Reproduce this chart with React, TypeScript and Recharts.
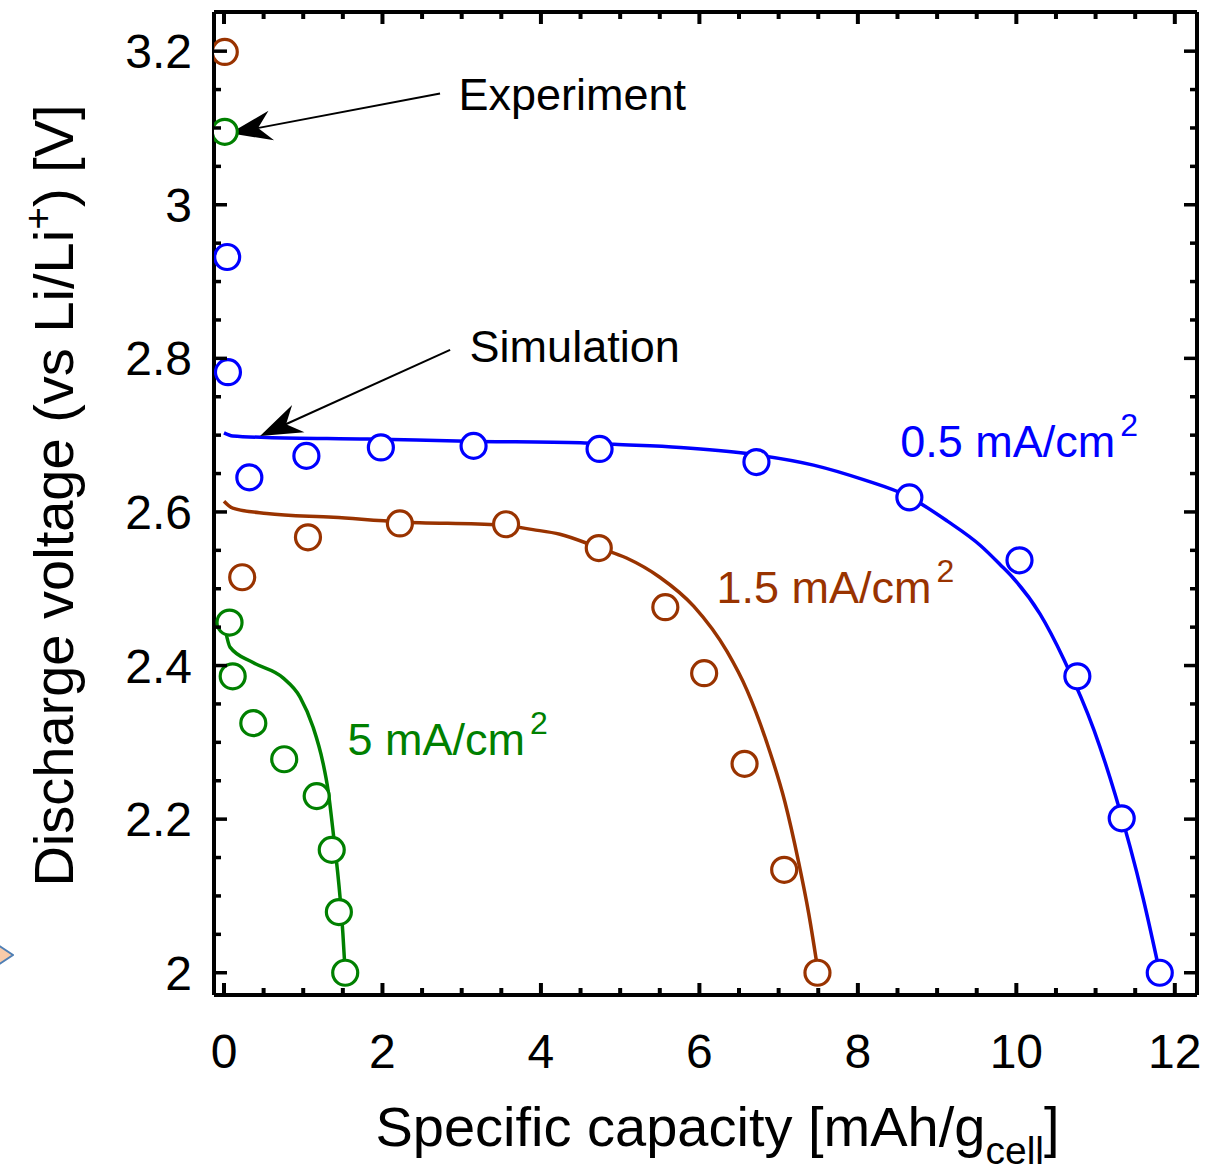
import React from 'react';
import { ComposedChart, Line, Scatter, XAxis, YAxis, ReferenceLine, ReferenceDot } from 'recharts';

// experiment points (circles)
const exp05X = [0.04, 0.05, 0.32, 1.04, 1.98, 3.15, 4.74, 6.72, 8.65, 10.04, 10.77, 11.33, 11.81];
const exp05Y = [2.932, 2.782, 2.645, 2.673, 2.684, 2.686, 2.682, 2.665, 2.619, 2.537, 2.386, 2.201, 2.0];
const exp15X = [0.01, 0.23, 1.06, 2.22, 3.56, 4.73, 5.57, 6.06, 6.57, 7.07, 7.49];
const exp15Y = [3.199, 2.515, 2.567, 2.585, 2.584, 2.553, 2.476, 2.39, 2.272, 2.134, 2.0];
const exp5X = [0.01, 0.07, 0.11, 0.37, 0.76, 1.17, 1.36, 1.45, 1.53];
const exp5Y = [3.095, 2.456, 2.386, 2.325, 2.278, 2.23, 2.16, 2.079, 2.0];

// simulation curves
const sim05X = [0, 0.11, 0.54, 1.81, 3.07, 4.5, 4.92, 5.76, 6.6, 7.44, 8.07, 8.64, 9.13, 9.55, 9.8, 9.96, 10.3, 10.6, 10.98, 11.25, 11.6, 11.81];
const sim05Y = [2.703, 2.699, 2.697, 2.695, 2.692, 2.69, 2.688, 2.684, 2.676, 2.661, 2.642, 2.62, 2.588, 2.556, 2.531, 2.514, 2.467, 2.408, 2.316, 2.231, 2.097, 2.0];
const sim15X = [0, 0.11, 0.54, 1.38, 2.22, 3.48, 3.9, 4.24, 4.74, 5.08, 5.5, 5.93, 6.35, 6.6, 6.85, 7.08, 7.25, 7.38, 7.5];
const sim15Y = [2.614, 2.605, 2.598, 2.593, 2.587, 2.583, 2.577, 2.571, 2.553, 2.54, 2.515, 2.477, 2.418, 2.368, 2.3, 2.222, 2.145, 2.077, 2.0];
const sim5X = [0.02, 0.076, 0.366, 0.745, 0.96, 1.124, 1.25, 1.313, 1.38, 1.465, 1.5, 1.53];
const sim5Y = [2.445, 2.424, 2.404, 2.384, 2.359, 2.32, 2.273, 2.238, 2.181, 2.098, 2.052, 2.0];

// axes
const xDomain = [-0.126, 12.28];
const yDomain = [1.971, 3.251];
const xTicks = [0, 0.5, 1, 1.5, 2, 2.5, 3, 3.5, 4, 4.5, 5, 5.5, 6, 6.5, 7, 7.5, 8, 8.5, 9, 9.5, 10, 10.5, 11, 11.5, 12];
const xLabels = [0, 2, 4, 6, 8, 10, 12];
const yTicks = [2, 2.05, 2.1, 2.15, 2.2, 2.25, 2.3, 2.35, 2.4, 2.45, 2.5, 2.55, 2.6, 2.65, 2.7, 2.75, 2.8, 2.85, 2.9, 2.95, 3, 3.05, 3.1, 3.15, 3.2];
const yLabels = [2, 2.2, 2.4, 2.6, 2.8, 3, 3.2];

// annotations (data coords)
const seriesNames = ['0.5 mA/cm', '1.5 mA/cm', '5 mA/cm'];
const seriesLabelX = [8.535, 6.215, 1.56];
const seriesLabelY = [2.671, 2.481, 2.283];
const noteText = ['Experiment', 'Simulation'];
const noteX = [2.96, 3.1];
const noteY = [3.123, 2.795];
const arrowTail = [{ x: 2.727, y: 3.145 }, { x: 2.854, y: 2.811 }];
const arrowTip = [{ x: 0.076, y: 3.093 }, { x: 0.455, y: 2.699 }];

const BLUE = '#0000ff';
const BROWN = '#993300';
const GREEN = '#008000';
const FONT = '"Liberation Sans", Arial, Helvetica, sans-serif';

const pts = (xs: number[], ys: number[]) => xs.map((x, i) => ({ x, y: ys[i] }));
const isMajor = (list: number[], v: number) => list.some((m) => Math.abs(m - v) < 1e-6);

const BottomTick = (props: any) => {
  const { x, y, payload } = props;
  const major = isMajor(xLabels, payload.value);
  return (
    <g>
      <line x1={x} y1={y} x2={x} y2={y - (major ? 12 : 7)} stroke="#000" strokeWidth={4} />
      {major && (
        <text x={x} y={y + 73} textAnchor="middle" fontSize={48} fontFamily={FONT} fill="#000">
          {payload.value}
        </text>
      )}
    </g>
  );
};

const TopTick = (props: any) => {
  const { x, y, payload } = props;
  const major = isMajor(xLabels, payload.value);
  return <line x1={x} y1={y} x2={x} y2={y + (major ? 12 : 7)} stroke="#000" strokeWidth={4} />;
};

const LeftTick = (props: any) => {
  const { x, y, payload } = props;
  const major = isMajor(yLabels, payload.value);
  return (
    <g>
      <line x1={x} y1={y} x2={x + (major ? 13 : 7)} y2={y} stroke="#000" strokeWidth={3.5} />
      {major && (
        <text x={x - 22} y={y + 17} textAnchor="end" fontSize={48} fontFamily={FONT} fill="#000">
          {payload.value}
        </text>
      )}
    </g>
  );
};

const RightTick = (props: any) => {
  const { x, y, payload } = props;
  const major = isMajor(yLabels, payload.value);
  return <line x1={x} y1={y} x2={x - (major ? 13 : 7)} y2={y} stroke="#000" strokeWidth={3.5} />;
};

const XTitle = (props: any) => {
  const vb = props.viewBox;
  return (
    <text x={vb.x + vb.width / 2 + 12} y={vb.y + 151} textAnchor="middle" fontSize={56} fontFamily={FONT} fill="#000">
      Specific capacity [mAh/g
      <tspan dy={18} fontSize={39}>cell</tspan>
      <tspan dy={-18}>]</tspan>
    </text>
  );
};

const YTitle = (props: any) => {
  const vb = props.viewBox;
  const cx = vb.x + 73;
  const cy = vb.y + vb.height / 2 - 8;
  return (
    <text x={cx} y={cy} transform={`rotate(-90, ${cx}, ${cy})`} textAnchor="middle" fontSize={56} fontFamily={FONT} fill="#000">
      Discharge voltage (vs Li/Li
      <tspan dy={-22} fontSize={39}>+</tspan>
      <tspan dy={22}>) [V]</tspan>
    </text>
  );
};

const Ring = (color: string) => (p: any) => (
  <circle cx={p.cx} cy={p.cy} r={12.5} fill="#fff" stroke={color} strokeWidth={3.2} />
);

const Arrow = (p: any) => {
  const { x1, y1, x2, y2 } = p;
  const dx = x2 - x1;
  const dy = y2 - y1;
  const len = Math.sqrt(dx * dx + dy * dy) || 1;
  const ux = dx / len;
  const uy = dy / len;
  const nx = -uy;
  const ny = ux;
  const L = 42;
  const W = 15;
  const head = [
    [x2, y2],
    [x2 - L * ux + W * nx, y2 - L * uy + W * ny],
    [x2 - 0.68 * L * ux, y2 - 0.68 * L * uy],
    [x2 - L * ux - W * nx, y2 - L * uy - W * ny],
  ]
    .map((q) => q.join(','))
    .join(' ');
  return (
    <g>
      <line x1={x1} y1={y1} x2={x2 - 0.6 * L * ux} y2={y2 - 0.6 * L * uy} stroke="#000" strokeWidth={2} />
      <polygon points={head} fill="#000" />
    </g>
  );
};

const SeriesLabel = (text: string, color: string) => (p: any) => (
  <text x={p.cx} y={p.cy} fill={color} fontSize={45} fontFamily={FONT}>
    {text}
    <tspan dx={5} dy={-21} fontSize={32}>2</tspan>
  </text>
);

const NoteLabel = (text: string) => (p: any) => (
  <text x={p.cx} y={p.cy} fill="#000" fontSize={45} fontFamily={FONT}>
    {text}
  </text>
);

const colors = [BLUE, BROWN, GREEN];

export default function App() {
  return (
    <div style={{ position: 'absolute', left: 0, top: 0, width: 1228, height: 1173, background: '#fff' }}>
      <svg width={14} height={40} style={{ position: 'absolute', left: 0, top: 936 }}>
        <polygon points="-14,1 13,19 -14,37" fill="#f9cba9" stroke="#4f7fb5" strokeWidth={2} />
      </svg>
      <ComposedChart width={1228} height={1173} margin={{ top: 10, right: 29, bottom: 0, left: 0 }}>
        <XAxis
          type="number"
          dataKey="x"
          domain={xDomain}
          allowDataOverflow
          ticks={xTicks}
          interval={0}
          tickSize={0}
          tickMargin={0}
          height={178}
          axisLine={{ stroke: '#000', strokeWidth: 4 }}
          tickLine={false}
          tick={(p: any) => <BottomTick {...p} />}
          label={{ content: (p: any) => <XTitle {...p} /> }}
        />
        <XAxis
          xAxisId="top"
          orientation="top"
          type="number"
          dataKey="x"
          domain={xDomain}
          allowDataOverflow
          ticks={xTicks}
          interval={0}
          tickSize={0}
          tickMargin={0}
          height={2}
          axisLine={{ stroke: '#000', strokeWidth: 4 }}
          tickLine={false}
          tick={(p: any) => <TopTick {...p} />}
        />
        <YAxis
          type="number"
          dataKey="y"
          domain={yDomain}
          allowDataOverflow
          ticks={yTicks}
          interval={0}
          tickSize={0}
          tickMargin={0}
          width={214}
          axisLine={{ stroke: '#000', strokeWidth: 4 }}
          tickLine={false}
          tick={(p: any) => <LeftTick {...p} />}
          label={{ content: (p: any) => <YTitle {...p} /> }}
        />
        <YAxis
          yAxisId="right"
          orientation="right"
          type="number"
          dataKey="y"
          domain={yDomain}
          allowDataOverflow
          ticks={yTicks}
          interval={0}
          tickSize={0}
          tickMargin={0}
          width={2}
          axisLine={{ stroke: '#000', strokeWidth: 4 }}
          tickLine={false}
          tick={(p: any) => <RightTick {...p} />}
        />

        <Line data={pts(sim05X, sim05Y)} dataKey="y" type="monotone" stroke={BLUE} strokeWidth={3.5} dot={false} activeDot={false} isAnimationActive={false} />
        <Line data={pts(sim15X, sim15Y)} dataKey="y" type="monotone" stroke={BROWN} strokeWidth={3.5} dot={false} activeDot={false} isAnimationActive={false} />
        <Line data={pts(sim5X, sim5Y)} dataKey="y" type="monotone" stroke={GREEN} strokeWidth={3.5} dot={false} activeDot={false} isAnimationActive={false} />

        <Scatter data={pts(exp05X, exp05Y)} shape={Ring(BLUE)} isAnimationActive={false} />
        <Scatter data={pts(exp15X, exp15Y)} shape={Ring(BROWN)} isAnimationActive={false} />
        <Scatter data={pts(exp5X, exp5Y)} shape={Ring(GREEN)} isAnimationActive={false} />

        {arrowTail.map((t, i) => (
          <ReferenceLine
            key={`arrow-${i}`}
            segment={[t, arrowTip[i]]}
            ifOverflow="visible"
            shape={(p: any) => <Arrow {...p} />}
          />
        ))}
        {noteText.map((t, i) => (
          <ReferenceDot key={`note-${i}`} x={noteX[i]} y={noteY[i]} ifOverflow="visible" shape={NoteLabel(t)} />
        ))}
        {seriesNames.map((t, i) => (
          <ReferenceDot
            key={`lab-${i}`}
            x={seriesLabelX[i]}
            y={seriesLabelY[i]}
            ifOverflow="visible"
            shape={SeriesLabel(t, colors[i])}
          />
        ))}
      </ComposedChart>
    </div>
  );
}
